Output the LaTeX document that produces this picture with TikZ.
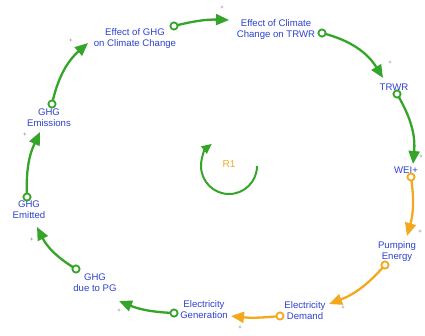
\documentclass[tikz,border=0pt]{standalone}
\usepackage{fontspec}
\setmainfont{Liberation Sans}
\usetikzlibrary{arrows.meta}
\definecolor{linkgreen}{RGB}{52,165,40}
\definecolor{linkorange}{RGB}{245,168,30}
\definecolor{varblue}{RGB}{45,65,205}
\definecolor{signgray}{RGB}{120,120,120}
\tikzset{
  var/.style={text=varblue, font=\fontsize{9.6}{11}\selectfont, align=center, inner sep=0pt},
  sign/.style={text=signgray, font=\fontsize{6}{6}\selectfont, inner sep=0pt},
  link/.style={line width=2.3pt, -{Triangle[length=13pt,width=11pt]}, bend left=#1},
  link/.default=18,
  tail/.style={line width=1.8pt, fill=white, draw=#1},
}
\begin{document}
\begin{tikzpicture}[x=1pt,y=-1pt]
\useasboundingbox (0,0) rectangle (425,335);

% variables
\node[var] (eghg) at (135,39) {Effect of GHG\\on Climate Change};
\node[var] (ecc)  at (276,30) {Effect of Climate\\Change on TRWR};
\node[var] (trwr) at (394,87) {TRWR};
\node[var] (wei)  at (406,170) {WEI+};
\node[var] (pump) at (397,252) {Pumping\\Energy};
\node[var] (dem)  at (305,311) {Electricity\\Demand};
\node[var] (gen)  at (204,310) {Electricity\\Generation};
\node[var] (pg)   at (95,283) {GHG\\due to PG};
\node[var] (emit) at (29,210) {GHG\\Emitted};
\node[var] (emis) at (49,118) {GHG\\Emissions};

% link tails and heads
\coordinate (emis-out) at (52,104);  \coordinate (eghg-in) at (88,43);
\coordinate (eghg-out) at (174,26);  \coordinate (ecc-in)  at (229,20);
\coordinate (ecc-out)  at (322,33);  \coordinate (trwr-in) at (383,78);
\coordinate (trwr-out) at (397,94);  \coordinate (wei-in)  at (413,164);
\coordinate (wei-out)  at (411,177); \coordinate (pump-in) at (407,236);
\coordinate (pump-out) at (385,265); \coordinate (dem-in)  at (329,304);
\coordinate (dem-out)  at (280,316); \coordinate (gen-in)  at (231,316);
\coordinate (gen-out)  at (174,313); \coordinate (pg-in)   at (119,301);
\coordinate (pg-out)   at (76,269);  \coordinate (emit-in) at (37,227);
\coordinate (emit-out) at (27,197);  \coordinate (emis-in) at (40,132);

% causal links
\draw[linkgreen, link=18] (emis-out) to (eghg-in);
\draw[linkgreen, link=8]  (eghg-out) to (ecc-in);
\draw[linkgreen, link=22] (ecc-out)  to (trwr-in);
\draw[linkgreen, link=18] (trwr-out) to (wei-in);
\draw[linkorange, link=12] (wei-out) to (pump-in);
\draw[linkorange, link=14] (pump-out) to (dem-in);
\draw[linkorange, link=6] (dem-out)  to (gen-in);
\draw[linkgreen, link=10] (gen-out)  to (pg-in);
\draw[linkgreen, link=16] (pg-out)   to (emit-in);
\draw[linkgreen, link=14] (emit-out) to (emis-in);

% tail markers
\foreach \c in {emis-out,eghg-out,ecc-out,trwr-out,gen-out,pg-out,emit-out}
  \draw[tail=linkgreen] (\c) circle (3.6pt);
\foreach \c in {wei-out,pump-out,dem-out}
  \draw[tail=linkorange] (\c) circle (3.6pt);

% polarity signs
\node[sign] (s1)  at (71,41)   {+};
\node[sign] (s2)  at (222,8)   {+};
\node[sign] (s3)  at (390,63)  {+};
\node[sign] (s4)  at (421,157) {+};
\node[sign] (s5)  at (420,232) {+};
\node[sign] (s6)  at (343,308) {+};
\node[sign] (s7)  at (240,328) {+};
\node[sign] (s8)  at (119,311) {+};
\node[sign] (s9)  at (32,240)  {+};
\node[sign] (s10) at (25,135)  {+};

% loop marker
\coordinate (loop-start) at (257,166);
\draw[linkgreen, line width=2pt, -{Triangle[length=10pt,width=9pt]}]
  (loop-start) arc[start angle=0, end angle=-232, radius=28pt];
\node[text=linkorange, font=\fontsize{10}{12}\selectfont] (r1) at (229,164) {R1};
\end{tikzpicture}
\end{document}
